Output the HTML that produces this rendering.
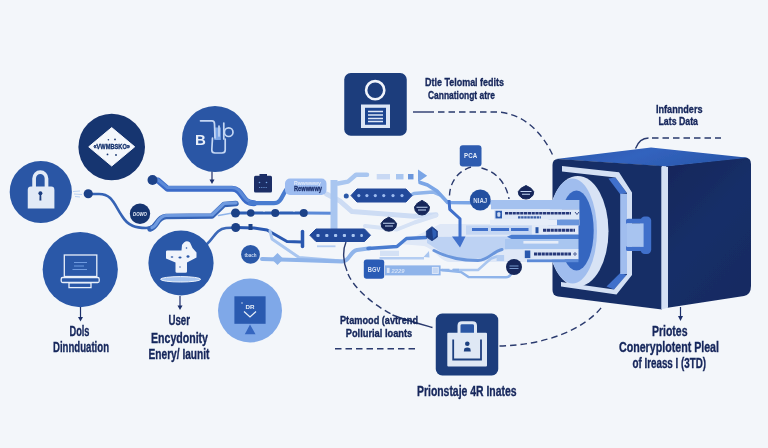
<!DOCTYPE html>
<html>
<head>
<meta charset="utf-8">
<title>Data encryption flow</title>
<style>
  html, body { margin: 0; padding: 0; background: #f3f6fa; }
  body { width: 768px; height: 448px; overflow: hidden; font-family: "Liberation Sans", sans-serif; }
  svg { display: block; }
  text { font-family: "Liberation Sans", sans-serif; }
  .lbl { fill: #15265b; font-weight: bold; stroke: #15265b; stroke-width: 0.35px; }
</style>
</head>
<body>
<svg width="768" height="448" viewBox="0 0 768 448">
  <defs>
    <filter id="soft" x="-5%" y="-5%" width="110%" height="110%"><feGaussianBlur stdDeviation="0.45"/></filter>
    <filter id="softt" x="-5%" y="-5%" width="110%" height="110%"><feGaussianBlur stdDeviation="0.3"/></filter>
    <filter id="soft2" x="-5%" y="-5%" width="110%" height="110%"><feGaussianBlur stdDeviation="0.9"/></filter>
    <linearGradient id="rface" x1="0" y1="0" x2="0.6" y2="1"><stop offset="0" stop-color="#13265a"/><stop offset="0.55" stop-color="#172f68"/><stop offset="1" stop-color="#152b62"/></linearGradient>
    <linearGradient id="tface" x1="0" y1="0" x2="1" y2="0.3"><stop offset="0" stop-color="#2a58ad"/><stop offset="0.5" stop-color="#3263be"/><stop offset="1" stop-color="#2a58ad"/></linearGradient>
    <radialGradient id="bgv" cx="50%" cy="50%" r="75%">
      <stop offset="0" stop-color="#f6f8fc"/>
      <stop offset="1" stop-color="#eef2f9"/>
    </radialGradient>
  </defs>
  <rect width="768" height="448" fill="#f3f6fa"/>

  <g filter="url(#soft)">
  <!-- ================= FLOW PATHS (behind) ================= -->
  <g id="paths" fill="none" stroke-linecap="round" stroke-linejoin="round">
    <!-- very light swooshes -->
    <path d="M326.500 194 L339.500 200.700 L352 211.600 L414 216.200 L436 214.700" stroke="#cddcf4" stroke-width="5"/>
    <path d="M365 226 L397 229.500 L414.500 222.500 L436 215.500" stroke="#d6e2f5" stroke-width="4"/>
    <path d="M440 224 L560 224 L560 262 L450 262 C440 262 436 250 424 246 L400 244" stroke="none" fill="#dfe8f7"/>
    <!-- path from dot A (lock) -->
    <path d="M88 194 L99 194 C112 194 114 204 122 216 C128 226 136 228 146 228 C156 228 155 220 162 217.5" stroke="#3563b5" stroke-width="2.600"/>
    <!-- light path from lower-left up to dots -->
    <path d="M150 229 C158 227 156 217.500 166 216.500 L212 216 L224 204.500 L236 203.500" stroke="#3563b5" stroke-width="5.5"/>
    <path d="M152 227.500 C158 226 157 216.500 166 215.500 L212 215 L224 203.500 L236 202.800" stroke="#6f9be0" stroke-width="3.200"/>
    <path d="M218.500 215.500 L231 213.200" stroke="#8fb4ea" stroke-width="1.500"/>
    <!-- path from dot B -->
    <path d="M152.500 180 L158 180.500 L167.500 188.800 L232 188.800 C243 188.800 241 203.200 254 203.200" stroke="#3b6bc8" stroke-width="6"/>
    <path d="M152.500 179.500 L158 179.800 L167.500 187.600 L232 187.600 C243 187.600 242 202.400 254 202.400" stroke="#5b8ad8" stroke-width="3"/>
    <path d="M250 203.200 L274 203.200 C284 203.200 282 188 292 186" stroke="#4a7bd0" stroke-width="4.200"/>
    <!-- dark line through dots -->
    <path d="M235 213 L306 213" stroke="#2f5fb5" stroke-width="3" stroke-dasharray="13 2"/>
    <path d="M306 213 L334 213.200" stroke="#5b8ad8" stroke-width="3"/>
    <!-- path from lower dot to user circle -->
    <path d="M236 227.5 L226 228 C216 229 214 238 207 244" stroke="#3a68b8" stroke-width="2.600"/>
    <!-- dark stepped path -->
    <path d="M236 227.500 L254 228 L267 230 L287 241.500 L302 242" stroke="#2a58b0" stroke-width="3"/>
    <path d="M302.5 231.5 L302.5 246.5" stroke="#2a58b0" stroke-width="3.5"/>
    <!-- light diag path -->
    <path d="M270 231 L272 239 L299 257.5 L342 261" stroke="#a9c6f0" stroke-width="3"/>
    <!-- light path w/ diamond -->
    <path d="M262 259 L297 260 L342 261.500 C350 261.500 349 252 357 250 L370 248.300" stroke="#8fb4ea" stroke-width="4"/>
    <path d="M368 248.500 L397 246.500 L406.500 238.500 L426 237.500" stroke="#4a7bd0" stroke-width="3.500"/>
    <rect x="380" y="250.700" width="19" height="5.300" fill="#d4e1f5" stroke="none"/>
    <!-- vertical light stripe -->
    <path d="M334 180 L334 229" stroke="#a9c6f0" stroke-width="7" stroke-linecap="butt"/>
    <path d="M338 183.500 L348 181.600 L356 174.800 L367 174.800" stroke="#a9c6f0" stroke-width="4.500"/>
    <!-- light dashes -->
    <path d="M376.7 176.700 L390 176.700" stroke="#c9d9f4" stroke-width="5.400" stroke-linecap="butt"/>
    <path d="M396 176.700 L403.500 176.700" stroke="#a9c6f0" stroke-width="5.400" stroke-linecap="butt"/>
    <path d="M408 176.700 L413.500 176.700" stroke="#6a96dc" stroke-width="5.400" stroke-linecap="butt"/>
    <!-- light paths right of pill1 -->
    <path d="M411 195 L414 193.500 L433 192 L440 195" stroke="#8fb4ea" stroke-width="3.500"/>
    <path d="M420 182.500 L427.500 185 L437 191 L447.600 202.500 L470 202.700" stroke="#7aa5e6" stroke-width="3.600"/>
    <path d="M490 202.700 L554 202" stroke="#8fb4ea" stroke-width="3.600"/>
    <!-- mid blue wave -->
    <path d="M427 237 L523 236.500 L523 249 C508 249 500 248 492 255 C486 259.500 470 259.500 455 257.500 C445 256 436 248 427 243 Z" fill="#bdd2f3" stroke="none"/>
    <path d="M434 250.500 C445 256.500 460 260.500 478 260.500 C488 260.500 492 252 502 249.500" stroke="#6a96dc" stroke-width="3"/>
    <!-- bottom light path -->
    <path d="M441 270 L461 272 L468.500 277 L506 277.300 C510 277.300 511 275 512 272" stroke="#8fb4ea" stroke-width="2.500"/>
    <path d="M453.500 270 L478 270 L491 258.500 L497 256.500" stroke="#a9c6f0" stroke-width="2.500"/>
    <rect x="496.600" y="255" width="7.500" height="6" fill="#b4cdf2" stroke="none"/>
    <!-- mid blue dashes -->
  </g>

  <!-- arrowhead -->
  <path d="M418 169.400 L427.200 175.700 L418 182 Z" fill="#7aa5e6"/>
  <!-- diamond -->
  <path d="M277.5 253 L283.5 259 L277.5 265 L271.5 259 Z" fill="#8fb4ea"/>

  <!-- dashed arcs -->
  <g fill="none" stroke="#2a3a6e" stroke-width="1.4" stroke-dasharray="6.5 4">
    <path d="M413 112 L434 112" stroke-dasharray="none"/>
    <path d="M438 112 L497 112 C521 113 542 130 554 158"/>
    <path d="M471 167 C455 172 449 186 449.5 198"/>
    <path d="M481.5 168 C498 172 507 186 509 199"/>
    <path d="M346 242 C342.500 250 343 262 347 271" stroke-dasharray="none"/>
    <path d="M348 274 C354 288 372 304 392 314.500"/>
    <path d="M392.5 315 C405 320 420 324 432.5 327.5" stroke-dasharray="none"/>
    <path d="M335 348.75 L418 348.75"/>
    <path d="M499.5 346 C545 345 585 330 603.5 304.75"/>
    <path d="M635.5 148.5 C638 142 642 138 648.5 138" stroke-dasharray="none"/>
    <path d="M652 138 L721 138"/>
  </g>

  <!-- ================= CIRCLES ================= -->
  <!-- lock circle -->
  <circle cx="40.800" cy="192" r="31.100" fill="#2a57a5"/>
  <path d="M27.750 208.500 L27.750 190 Q27.750 186.600 31 186.600 L51.200 186.600 Q54.400 186.600 54.400 190 L54.400 208.500 Z" fill="#e2eaf6"/>
  <path d="M34.100 187.500 L34.100 178.500 A6.200 6.400 0 0 1 46.500 178.500 L46.500 187.500" fill="none" stroke="#e2eaf6" stroke-width="3.700"/>
  <circle cx="40.400" cy="193.200" r="2" fill="#1c3d80"/>
  <path d="M39.600 194 L41.200 194 L41.400 200.600 L39.400 200.600 Z" fill="#1c3d80"/>
  <path d="M73 191.500 L80 191 M74 194 L82 194.500 M75 196.500 L80 197" stroke="#a9c6f0" stroke-width="0.800" fill="none"/>

  <!-- diamond circle -->
  <circle cx="111.700" cy="147" r="33.300" fill="#18346f"/>
  <path d="M111.700 127.600 L134.700 146.800 L111.700 166 L88.750 146.800 Z" fill="#f4f7fc" stroke="#f4f7fc" stroke-width="1" stroke-linejoin="round"/>
  <text x="111.700" y="149" text-anchor="middle" font-size="7.500" font-weight="bold" fill="#18346f" stroke="#18346f" stroke-width="0.400" textLength="36.500" lengthAdjust="spacingAndGlyphs">«VWMBSKO»</text>
  <circle cx="108.400" cy="139.750" r="0.800" fill="#18346f"/><circle cx="115" cy="139.400" r="0.900" fill="#18346f"/>
  <circle cx="107.500" cy="154.400" r="0.900" fill="#18346f"/><circle cx="116" cy="155" r="0.900" fill="#18346f"/>

  <!-- BP circle -->
  <circle cx="215" cy="139.100" r="33" fill="#2a57a5"/>
  <path d="M212 171.500 L212 182" stroke="#1b2f6b" stroke-width="1.200"/>
  <path d="M209.500 179.500 L212 184 L214.500 179.500 Z" fill="#1b2f6b"/>
  <text x="195" y="145.300" font-size="15" font-weight="bold" fill="#e8eef9">B</text>
  <rect x="214.300" y="127.500" width="6.500" height="12.500" fill="#7aa5e6"/>
  <g fill="none" stroke="#c4d6f3" stroke-width="1.700" stroke-linejoin="round" stroke-linecap="round">
    <path d="M200.500 120.800 L212 120.800 Q214.500 120.800 214.500 124 L215 138"/>
    <path d="M223.800 123 L223.800 139"/>
    <circle cx="228.700" cy="132.200" r="4.300"/>
    <path d="M212.500 138 L211.800 150 Q211.800 153 215 153 L222 153 Q225.200 153 225.200 150 L225.200 139"/>
    <path d="M219 126 L219 136"/>
  </g>

  <!-- laptop circle -->
  <circle cx="80.250" cy="269.600" r="37.600" fill="#2a58a8"/>
  <g fill="none" stroke="#e8eff9" stroke-width="1.300">
    <rect x="64.300" y="255" width="32.500" height="21.500"/>
    <rect x="61.200" y="277.500" width="38" height="5" rx="1.500"/>
    <rect x="69" y="282.800" width="22" height="4.800"/>
  </g>
  <path d="M74 262.500 L87 262.500 M74 266 L84 266 M72.500 269.500 L87 269.500" stroke="#6f9be0" stroke-width="1"/>
  <path d="M80.500 307 L80.500 319" stroke="#1b2f6b" stroke-width="1.200"/>
  <path d="M78 317 L80.500 321.500 L83 317 Z" fill="#1b2f6b"/>

  <!-- user circle -->
  <circle cx="181" cy="263" r="32.6" fill="#2a58a8"/>
  <path d="M166 251.500 Q166 250.500 167.500 250.500 L181.500 250.500 L182 245 Q185.500 239 190 242.500 L192.500 248 L196.500 252.500 L196.500 257.500 L187 262.500 L187 271.500 Q187 272.800 185.500 272.800 L177 272.800 Q175.500 272.800 175.500 271.500 L175.500 262.500 L166 258.500 Z" fill="#f0f4fb"/>
  <ellipse cx="172" cy="257" rx="1.300" ry="0.800" fill="#2a58a8"/><ellipse cx="180" cy="257.500" rx="1.600" ry="0.900" fill="#2a58a8"/><ellipse cx="188" cy="256.500" rx="1.500" ry="1.200" fill="#2a58a8"/><circle cx="186.500" cy="248" r="0.800" fill="#2a58a8"/><circle cx="180" cy="267" r="0.700" fill="#2a58a8"/>
  <ellipse cx="180.600" cy="279.300" rx="20" ry="2.700" fill="#a9c6f0" stroke="#eef3fb" stroke-width="1"/>
  <path d="M180 296 L180 307.500" stroke="#1b2f6b" stroke-width="1.200"/>
  <path d="M177.500 305.500 L180 310 L182.500 305.500 Z" fill="#1b2f6b"/>

  <!-- monitor circle (light) -->
  <circle cx="250" cy="310.500" r="32" fill="#7fa8e8"/>
  <rect x="234.400" y="296.300" width="31.200" height="27.500" fill="#2a5ab0"/>
  <path d="M250 324.500 L255.500 334.300 L244.800 334.300 Z" fill="#3566c0"/>
  <path d="M244 311.500 L250 317 L256 311.500" fill="none" stroke="#e8eff9" stroke-width="1.200"/>
  <text x="245.500" y="309" font-size="6" font-weight="bold" fill="#e8eff9" textLength="9" lengthAdjust="spacingAndGlyphs">DR</text>
  <circle cx="242" cy="303" r="0.700" fill="#e8eff9"/>

  <!-- small circles -->
  <circle cx="88.250" cy="193.750" r="4.600" fill="#1e4288"/>
  <circle cx="152.500" cy="180" r="5" fill="#1e4288"/>
  <circle cx="140" cy="213.700" r="10.200" fill="#18346f"/>
  <text x="140" y="216" text-anchor="middle" font-size="5.500" font-weight="bold" font-style="italic" fill="#e8eff9" textLength="14" lengthAdjust="spacingAndGlyphs">DOWO</text>
  <circle cx="235.500" cy="213" r="4.500" fill="#1e4288"/>
  <circle cx="250.750" cy="213" r="3.800" fill="#1e4288"/>
  <circle cx="275.250" cy="213" r="4" fill="#1e4288"/>
  <circle cx="303.750" cy="213" r="4" fill="#1e4288"/>
  <circle cx="235.750" cy="227.500" r="4.500" fill="#1e4288"/>
  <rect x="248.500" y="224" width="4" height="6" fill="#1e4288"/>
  <circle cx="250.500" cy="254.400" r="9.400" fill="#2a58a8"/>
  <text x="250.500" y="256.500" text-anchor="middle" font-size="5" font-weight="bold" fill="#cfdcf2" textLength="12" lengthAdjust="spacingAndGlyphs">tbach</text>
  <circle cx="346.250" cy="196" r="2.500" fill="#2a58a8"/>

  <!-- robot square -->
  <rect x="254" y="175.750" width="18" height="16.750" rx="1.500" fill="#1a2f66"/>
  <rect x="259.500" y="174" width="7.500" height="3" fill="#1a2f66"/>
  <circle cx="259.500" cy="182.500" r="0.800" fill="#7aa5e6"/><circle cx="266.500" cy="182.500" r="0.800" fill="#7aa5e6"/>
  <path d="M259 187.500 L267 187.500" stroke="#7aa5e6" stroke-width="0.800" stroke-dasharray="1.200 1"/>

  <!-- label box -->
  <rect x="285" y="178.500" width="41.500" height="16.500" rx="5" fill="#9dbcf0"/>
  <text x="294" y="185" font-size="6" font-weight="bold" fill="#e4ecf9" textLength="27" lengthAdjust="spacingAndGlyphs">Rwwwwwy</text>
  <text x="294" y="191" font-size="6.500" font-weight="bold" fill="#1b2f6b" stroke="#1b2f6b" stroke-width="0.300" textLength="28" lengthAdjust="spacingAndGlyphs">Rewwwwy</text>

  <!-- pills -->
  <path d="M351 195.500 L357 189 L406 189 L412 195.500 L406 202 L357 202 Z" fill="#23489a" stroke="#23489a" stroke-width="1" stroke-linejoin="round"/>
  <g fill="#9dbcf0"><circle cx="358.800" cy="195.600" r="1.600"/><circle cx="366.900" cy="195.600" r="1.600"/><circle cx="375.300" cy="195.600" r="1.600"/><circle cx="383.750" cy="195.600" r="1.600"/><circle cx="393" cy="195.600" r="1.600"/><circle cx="402" cy="195.600" r="1.600"/></g>
  <path d="M309.800 235.200 L316 229 L364.500 229 L370.500 235.200 L364.500 241.500 L316 241.500 Z" fill="#23489a" stroke="#23489a" stroke-width="1" stroke-linejoin="round"/>
  <g fill="#a9c6f0"><rect x="316.400" y="233.900" width="3.200" height="3.200" rx="1"/><rect x="325.200" y="233.900" width="3.200" height="3.200" rx="1"/><rect x="334" y="233.900" width="3.200" height="3.200" rx="1"/><rect x="342.800" y="233.900" width="3.200" height="3.200" rx="1"/><rect x="351.600" y="233.900" width="3.200" height="3.200" rx="1"/><rect x="360.300" y="233.900" width="2.600" height="3.200" rx="1"/></g>
  <path d="M317 246.300 L335.500 246.300" stroke="#b4cdf2" stroke-width="1.800" fill="none"/>

  <!-- badges -->
  <path d="M422.00 200.40 L426.65 203.17 L429.50 206.97 L428.75 210.98 L425.38 214.27 L422.00 215.00 L418.62 214.27 L415.25 210.98 L414.50 206.97 L417.35 203.17 Z" fill="#14275a" stroke="#14275a" stroke-width="1" stroke-linejoin="round"/>
  <path d="M388.80 217.20 L393.64 219.86 L396.60 223.50 L395.82 227.35 L392.31 230.50 L388.80 231.20 L385.29 230.50 L381.78 227.35 L381.00 223.50 L383.96 219.86 Z" fill="#14275a" stroke="#14275a" stroke-width="1" stroke-linejoin="round"/>
  <path d="M432 226.700 L437.400 231 L437.400 237 L432 240.700 L426.400 237 L426.400 231 Z" fill="#1c3c84" stroke="#1c3c84" stroke-width="0.800" stroke-linejoin="round"/>
  <path d="M432 228 L436.500 231.500 L436.500 236 L433 239 Z" fill="#2f5fb5"/>
  <path d="M526.00 185.55 L530.80 188.12 L533.75 191.62 L532.98 195.34 L529.49 198.38 L526.00 199.05 L522.51 198.38 L519.02 195.34 L518.25 191.62 L521.20 188.12 Z" fill="#14275a" stroke="#14275a" stroke-width="1" stroke-linejoin="round"/>
  <g stroke="#c4d6f3" stroke-width="1.100"><path d="M416.500 207.300 L427.500 207.300 M418 210 L426 210 M383 223.300 L394.500 223.300 M385 226 L393 226 M520.500 191.500 L531.500 191.500 M522 194.200 L530 194.200"/></g>

  <!-- PCA square -->
  <rect x="459.750" y="145.250" width="21.750" height="21.250" rx="3" fill="#2d5bb0"/>
  <text x="470.600" y="158.300" text-anchor="middle" font-size="6.500" font-weight="bold" fill="#e8eff9" textLength="13" lengthAdjust="spacingAndGlyphs">PCA</text>
  <!-- NIAJ circle -->
  <circle cx="480.250" cy="200" r="10.500" fill="#2450a0"/>
  <text x="480.250" y="202.500" text-anchor="middle" font-size="6.500" font-weight="bold" fill="#cfdcf2" textLength="14" lengthAdjust="spacingAndGlyphs">NIAJ</text>
  <!-- BGV square -->
  <rect x="363.800" y="259.500" width="20.400" height="19.300" rx="2.800" fill="#2b5cb6"/>
  <text x="374" y="271.800" text-anchor="middle" font-size="6.500" font-weight="bold" fill="#dbe5f6" textLength="12.500" lengthAdjust="spacingAndGlyphs">BGV</text>
  <!-- light bar -->
  <rect x="385" y="265.400" width="55.600" height="10" fill="#8fb4ea"/>
  <rect x="432.300" y="267.300" width="6" height="6.200" fill="#c4d6f3" stroke="#e6edf9" stroke-width="0.800"/>
  <rect x="386.800" y="267.800" width="2.800" height="5.200" fill="#dbe5f6"/>
  <text x="391.500" y="272.800" font-size="6" font-weight="bold" font-style="italic" fill="#d4e1f6" textLength="13" lengthAdjust="spacingAndGlyphs">2229</text>
  <path d="M379.500 258.300 L424 258.300" stroke="#b4cdf2" stroke-width="2.400" fill="none"/>
  <path d="M423.500 257 L429 251 L429.500 257.500 Z" fill="#a9c6f0"/>
  <path d="M442 270 L449.500 270 M452.500 270 L459 270" stroke="#8fb4ea" stroke-width="2.500" fill="none"/>
  <!-- dark circle lower -->
  <circle cx="514" cy="267" r="8" fill="#14275a"/>
  <path d="M509.500 266 L518.500 266 M509.500 268.500 L518.500 268.500" stroke="#8fb4ea" stroke-width="0.800"/>
  <!-- down arrow dark -->
  <path d="M449 200 L449.750 209.400 L460 218.750 L460 238" stroke="#3f6fcb" stroke-width="3" fill="none" stroke-linejoin="round"/>
  <path d="M452 236.500 L465.500 236.500 L460 247.500 Z" fill="#3f6fcb"/>

  <!-- ================= SAFE ================= -->
  <g id="safe">
    <!-- right face -->
    <path d="M666 166 L744 157.500 Q751 157 751 164 L751 286 Q751 294.500 744 296 L666 308 Z" fill="url(#rface)"/>
    <!-- top face -->
    <path d="M556 159 L651 147.500 L748 157.800 L665 166.500 Z" fill="url(#tface)"/>
    <!-- front face -->
    <path d="M558 159 L662 166 L662 309.500 L558 296.500 Q552.500 295.500 552.500 290 L552.500 165 Q552.500 159 558 159 Z" fill="#152e66"/>
    <!-- light edge -->
    <path d="M661.3 167.5 Q661.3 166 663 166.3 L668 167 L668 307.8 L661.3 309.5 Z" fill="#d4e0f4"/>
    <!-- frame -->
    <path d="M608.400 178.500 L615.500 177.500 L627 193 L620.200 194.300 Z" fill="#3f6fcb"/>
    <path d="M620.200 273 L627 275 L614 289.500 L606.500 286.400 Z" fill="#3f6fcb"/>
    <path d="M562 166 L619 172.300 L632 192.500 L632 275 L616.500 294.500 L561 286.500 L561 282 L614 289.500 L627 274.500 L627 193 L615.500 177.500 L562 171.500 Z" fill="#d4e0f4"/>
    <path d="M620.200 193.800 L627 193.800 L627 274 L620.200 274 Z" fill="#a0bdee"/>
    <!-- handle -->
    <rect x="640.500" y="216.400" width="10.700" height="37.600" rx="4.200" fill="#3f6fcb"/>
    <path d="M626 220.500 Q626 218.800 628 218.800 L643 218.800 L643 251 L628 251 Q626 251 626 249.500 L626 246.500 L640 246.500 L640 223.500 L626 223.500 Z" fill="#3f6fcb"/>
    <rect x="627" y="223.400" width="16.600" height="23.500" fill="#a8c4f0"/>
    <!-- door ring -->
    <ellipse cx="577.750" cy="231.200" rx="30.750" ry="55.300" fill="#d8e3f5"/>
    <ellipse cx="572.500" cy="231" rx="24.500" ry="52.500" fill="#a0bdee"/>
    <ellipse cx="576.500" cy="230.500" rx="17.200" ry="40" fill="#3566c0"/>
  </g>

  <!-- ================= DATA BARS ================= -->
  <g id="bars">
    <rect x="491" y="200" width="88.400" height="9.300" fill="#a4c1ef"/>
    <rect x="494" y="209.300" width="85.400" height="10.400" fill="#dde7f7"/>
    <rect x="495.500" y="210.800" width="6.500" height="7.600" fill="#2a58ad"/>
    <rect x="497.300" y="212.300" width="3" height="4.400" rx="1" fill="#cfdcf2"/>
    <path d="M505 213.200 L571 213.200" stroke="#26397a" stroke-width="2.600" stroke-dasharray="3.200 0.600"/>
    <path d="M518 217.400 L541 217.400" stroke="#3b5fa8" stroke-width="2.200" stroke-dasharray="2.500 0.600"/>
    <path d="M575 212 L577 214.500 L579 212" stroke="#26397a" stroke-width="0.900" fill="none"/>
    <rect x="490" y="219.700" width="89.400" height="5.800" fill="#e6edf9"/>
    <rect x="557" y="219.700" width="22" height="5.800" fill="#6a96dc"/>
    <rect x="466" y="225.400" width="66" height="9.300" fill="#c4d6f3"/>
    <rect x="531.800" y="225.400" width="46.700" height="9.300" fill="#e2eaf8"/>
    <rect x="535.500" y="227.200" width="3" height="6" fill="#2855a8"/>
    <path d="M543 230.300 L575 230.300" stroke="#26397a" stroke-width="3" stroke-dasharray="3.200 0.600"/>
    <path d="M507 236.800 L511.500 234.700 L578.500 234.700 L578.500 239 L511.500 239 Z" fill="#4a7bd0"/>
    <rect x="505" y="239" width="73.500" height="10.200" fill="#a9c6f0"/>
    <rect x="523.400" y="241" width="35" height="2.600" fill="#e6edf9"/>
    <rect x="523.400" y="249" width="55.100" height="10.400" fill="#dde7f7"/>
    <rect x="524.800" y="250.500" width="5.500" height="7.600" fill="#2a58ad"/>
    <path d="M534 254 L571 254" stroke="#26397a" stroke-width="3" stroke-dasharray="3.200 0.600"/>
    <circle cx="575" cy="254" r="1.200" fill="none" stroke="#26397a" stroke-width="0.800"/>
    <rect x="527" y="259.400" width="51.500" height="2.800" fill="#5b8ad8"/>
    <path d="M472 229.500 L488 229.500 M491 229.500 L509 229.500 M511 229.500 L528.500 229.500" stroke="#3f6fcb" stroke-width="3" stroke-linecap="butt" fill="none"/>
  </g>
  <!-- ring front lip over bars (right part of ring) -->

  <!-- ================= SQUARES ================= -->
  <rect x="344.250" y="73" width="62.500" height="62.750" rx="6.500" fill="#1b3c7c"/>
  <circle cx="375.200" cy="90.200" r="9.100" fill="none" stroke="#f0f4fb" stroke-width="2.600"/>
  <rect x="361" y="104.500" width="29" height="23.500" fill="#dde7f6"/>
  <rect x="365" y="107.800" width="21" height="17" fill="#1e4590"/>
  <path d="M368 111.500 L383 111.500 M368 115 L383 115 M368 118.500 L383 118.500 M368 121.500 L383 121.500" stroke="#dde7f6" stroke-width="1.300"/>

  <rect x="435.750" y="313.500" width="62.500" height="62" rx="6.500" fill="#1b3c7c"/>
  <path d="M459 334 L459 325.500 Q459 322.700 462 322.700 L472.500 322.700 Q475.500 322.700 475.500 325.500 L475.500 334" fill="#2a57a5" stroke="#dfe8f5" stroke-width="3"/>
  <rect x="447.300" y="332.800" width="39.700" height="33.600" rx="1" fill="#dfe8f5"/>
  <path d="M453.200 339.500 L453.200 359.500 L481 359.500 L481 339.500" fill="none" stroke="#1e4080" stroke-width="1.800"/>
  <circle cx="467.300" cy="343.800" r="2.300" fill="#1e4080"/>
  <path d="M463.800 351.500 L464.300 348.500 Q467.300 346.300 470.300 348.500 L470.800 351.500 Z" fill="#1e4080"/>

  <!-- arrow below safe -->
  <path d="M680.500 307 L680.500 318" stroke="#1b2f6b" stroke-width="1.200"/>
  <path d="M678 316 L680.500 321 L683 316 Z" fill="#1b2f6b"/>
  </g>

  <!-- ================= TEXT ================= -->
  <g class="lbl" filter="url(#softt)">
    <text x="425" y="85.500" font-size="11.500" textLength="79" lengthAdjust="spacingAndGlyphs">Dtle Telomal fedits</text>
    <text x="428" y="98.750" font-size="11.500" textLength="67" lengthAdjust="spacingAndGlyphs">Cannationgt atre</text>
    <text x="656" y="112.500" font-size="11.500" textLength="46.500" lengthAdjust="spacingAndGlyphs">Infannders</text>
    <text x="658.500" y="124.500" font-size="11.500" textLength="39.500" lengthAdjust="spacingAndGlyphs">Lats Data</text>
    <text x="69.500" y="335.500" font-size="14.500" textLength="20" lengthAdjust="spacingAndGlyphs">Dols</text>
    <text x="53" y="352" font-size="14.500" textLength="56" lengthAdjust="spacingAndGlyphs">Dinnduation</text>
    <text x="168.500" y="325" font-size="14.500" textLength="21.500" lengthAdjust="spacingAndGlyphs">User</text>
    <text x="151" y="342.500" font-size="14.500" textLength="57" lengthAdjust="spacingAndGlyphs">Encydonity</text>
    <text x="148.500" y="358.500" font-size="14.500" textLength="61" lengthAdjust="spacingAndGlyphs">Enery/ Iaunit</text>
    <text x="340" y="324.250" font-size="11.500" textLength="78" lengthAdjust="spacingAndGlyphs">Ptamood (avtrend</text>
    <text x="345.750" y="336.750" font-size="11.500" textLength="66.500" lengthAdjust="spacingAndGlyphs">Pollurial Ioants</text>
    <text x="417" y="396" font-size="14" textLength="99.500" lengthAdjust="spacingAndGlyphs">Prionstaje 4R Inates</text>
    <text x="652" y="335.700" font-size="14" textLength="35.500" lengthAdjust="spacingAndGlyphs">Priotes</text>
    <text x="619" y="352" font-size="14" textLength="100" lengthAdjust="spacingAndGlyphs">Coneryplotent Pleal</text>
    <text x="632.500" y="368.300" font-size="14" textLength="73.500" lengthAdjust="spacingAndGlyphs">of Ireass I (3TD)</text>
  </g>
</svg>
</body>
</html>
